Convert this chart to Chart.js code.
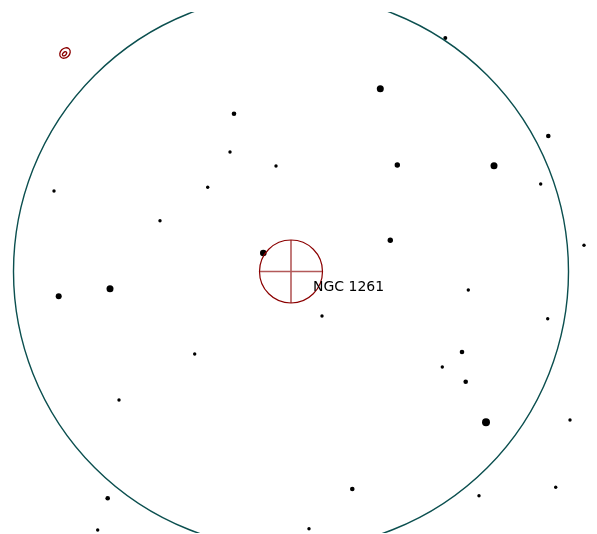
<!DOCTYPE html>
<html>
<head>
<meta charset="utf-8">
<script src="https://cdn.jsdelivr.net/npm/chart.js@4"></script>
<style>
  html, body { margin: 0; padding: 0; background: #fff; }
  #wrap { width: 597px; height: 534px; position: relative; }
</style>
</head>
<body>
<div id="wrap"><canvas id="finder"></canvas></div>
<script>
// star positions (offset from field centre) and marker size
const starX = [154.3, 89.3, -57, 257.3, -61, -15, 106.3, 203, -237, 249.7, -83.3, -131, 99.3, 293, -27.7,
  -232.3, -181, 177.3, 31, 256.7, -96.3, 171, 151.3, 174.7, -172, 195, 279, 61.3, -183.3, 188, 264.7, -193.3, 18];
const starY = [233.5, 182.8, 157.8, 135.5, 119.5, 105.5, 106.5, 105.8, 80.5, 87.5, 84.2, 50.8, 31.2, 26.2, 18.5,
  -24.8, -17.2, -18.5, -44.5, -47.2, -82.5, -80.5, -95.5, -110.2, -128.5, -150.8, -148.5, -217.5, -226.8, -224.2, -215.8, -258.5, -257.2];
const starSize = [2, 3.5, 2.3, 2.3, 1.7, 1.7, 2.7, 3.5, 1.7, 1.7, 1.7, 1.7, 2.7, 1.7, 3.3,
  3, 3.5, 1.7, 1.7, 1.7, 1.7, 2.3, 1.7, 2.3, 1.7, 4, 1.7, 2.3, 2.3, 1.7, 1.7, 1.7, 1.7];

// target object
const targetName = 'NGC 1261';
const targetX = 0, targetY = 0, targetRadius = 31.5;
const labelX = 22, labelY = -15.5;

// field of view circle
const fieldRadius = 277.5;

// other deep sky object (galaxy marker)
const galaxyX = -226, galaxyY = 218.5;

const stars = starX.map((x, i) => ({ x: x, y: starY[i], r: starSize[i] }));

// draws the field circle, target reticle, galaxy symbol and label
const overlay = {
  id: 'overlay',
  afterDatasetsDraw(chart) {
    const ctx = chart.ctx;
    const xs = chart.scales.x, ys = chart.scales.y;
    const px = v => xs.getPixelForValue(v);
    const py = v => ys.getPixelForValue(v);
    const unit = Math.abs(px(1) - px(0));
    const area = chart.chartArea;

    ctx.save();
    ctx.beginPath();
    ctx.rect(area.left, area.top, area.right - area.left, area.bottom - area.top);
    ctx.clip();

    // field of view
    ctx.strokeStyle = '#0b4f4f';
    ctx.lineWidth = 1.4;
    ctx.beginPath();
    ctx.arc(px(targetX), py(targetY), fieldRadius * unit, 0, Math.PI * 2);
    ctx.stroke();
    ctx.restore();

    // target reticle
    ctx.save();
    const cx = px(targetX), cy = py(targetY), rr = targetRadius * unit;
    ctx.strokeStyle = 'rgba(139,0,0,0.65)';
    ctx.lineWidth = 1.6;
    ctx.beginPath();
    ctx.moveTo(cx - rr, cy); ctx.lineTo(cx + rr, cy);
    ctx.moveTo(cx, cy - rr); ctx.lineTo(cx, cy + rr);
    ctx.stroke();
    ctx.strokeStyle = '#8b0000';
    ctx.lineWidth = 1.2;
    ctx.beginPath();
    ctx.arc(cx, cy, rr, 0, Math.PI * 2);
    ctx.stroke();

    // galaxy symbol
    const gx = px(galaxyX), gy = py(galaxyY);
    ctx.lineWidth = 1.3;
    ctx.beginPath();
    ctx.ellipse(gx, gy, 5.8, 4.6, -Math.PI / 4, 0, Math.PI * 2);
    ctx.stroke();
    ctx.beginPath();
    ctx.ellipse(gx - 0.5, gy + 0.8, 2.5, 1.6, -Math.PI / 4, 0, Math.PI * 2);
    ctx.stroke();

    // label
    ctx.fillStyle = '#000';
    ctx.font = '14px "DejaVu Sans"';
    ctx.textAlign = 'left';
    ctx.textBaseline = 'middle';
    ctx.fillText(targetName, px(labelX), py(labelY));
    ctx.restore();
  }
};

new Chart(document.getElementById('finder'), {
  type: 'bubble',
  data: {
    datasets: [{
      label: 'stars',
      data: stars,
      backgroundColor: '#000',
      borderWidth: 0
    }]
  },
  options: {
    responsive: true,
    maintainAspectRatio: false,
    animation: false,
    events: [],
    layout: { autoPadding: false, padding: { top: 12, bottom: 1, left: 0, right: 0 } },
    plugins: { legend: { display: false }, tooltip: { enabled: false } },
    scales: {
      x: { type: 'linear', display: false, min: -291, max: 306 },
      y: { type: 'linear', display: false, min: -261.5, max: 259.5 }
    }
  },
  plugins: [overlay]
});
</script>
</body>
</html>
